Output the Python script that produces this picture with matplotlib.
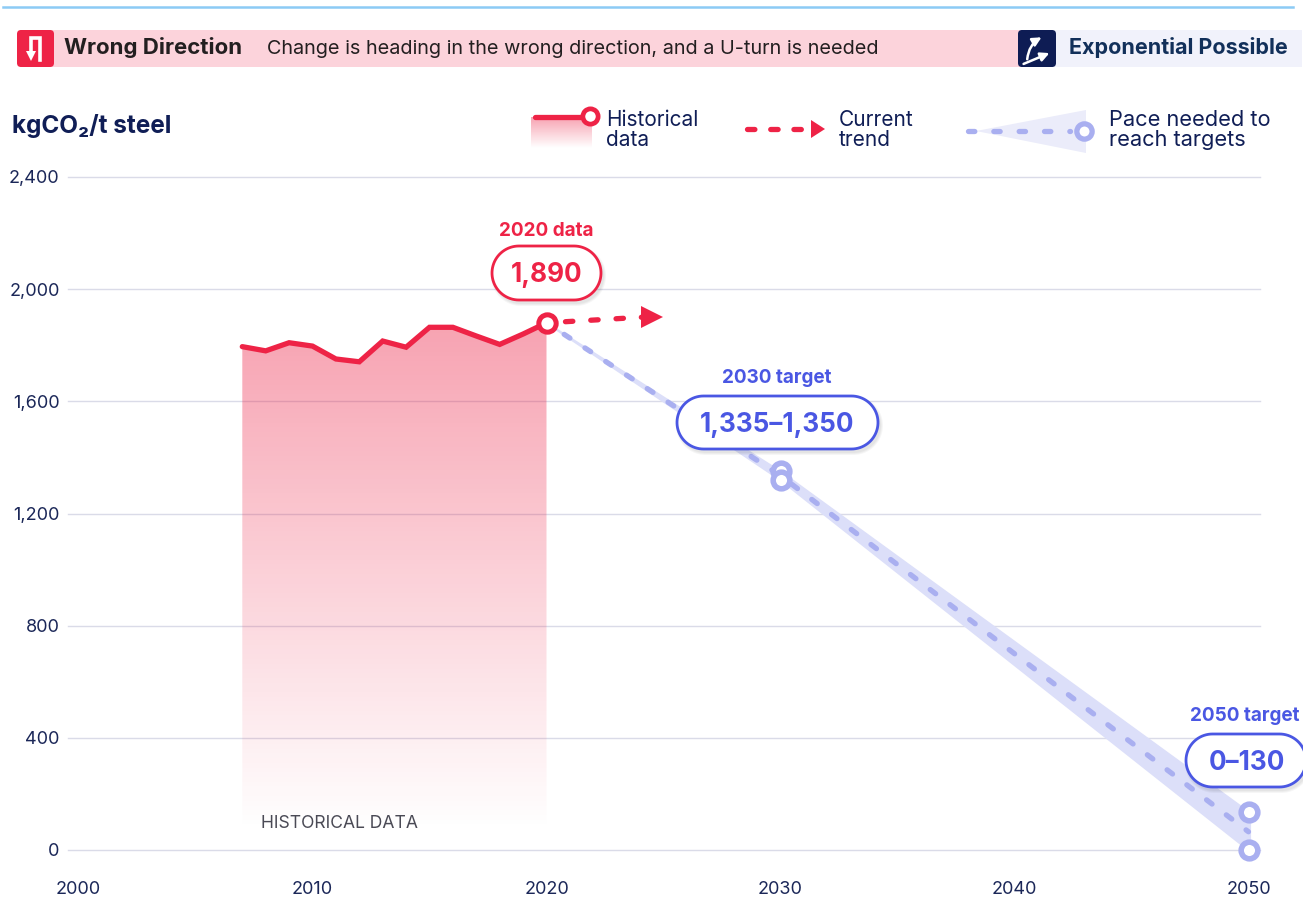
import matplotlib
matplotlib.use('Agg')
import matplotlib.pyplot as plt
import numpy as np
from matplotlib.colors import LinearSegmentedColormap
from matplotlib.patches import FancyBboxPatch, Polygon, Rectangle

plt.rcParams['font.family'] = ['Inter', 'DejaVu Sans']

RED = '#EE2346'
BLUE = '#4A57E3'
PACE = '#A9AFF0'
BAND = '#DCDFF9'
NAVY = '#101E56'

# data
hist_years = [2007, 2008, 2009, 2010, 2011, 2012, 2013, 2014, 2015, 2016, 2017, 2018, 2019, 2020]
hist_values = [1795, 1780, 1809, 1797, 1751, 1741, 1815, 1793, 1864, 1864, 1833, 1803, 1840, 1880]
trend_years = [2020, 2024.5]
trend_values = [1880, 1902]
pace_years = [2020, 2030, 2050]
pace_low = [1880, 1320, 0]
pace_high = [1880, 1350, 136]
pace_mid = [1880, 1335, 65]
x_ticks = [2000, 2010, 2020, 2030, 2040, 2050]
y_ticks = [0, 400, 800, 1200, 1600, 2000, 2400]

W, H = 1303, 898
fig = plt.figure(figsize=(W / 100, H / 100), dpi=100)

# main axes, 68..1260 px wide and 177..850 px tall
ax = fig.add_axes([68 / W, 1 - 850 / H, (1260 - 68) / W, (850 - 177) / H])
ax.set_facecolor('none')
per_year = 23.4
x_range = (2020 + (68 - 546.5) / per_year, 2020 + (1260 - 546.5) / per_year)
for s in ax.spines.values():
    s.set_visible(False)
ax.set_xticks(x_ticks)
ax.set_yticks(y_ticks)
ax.set_yticklabels([f'{v:,}' for v in y_ticks])
ax.tick_params(length=0, labelsize=13, labelcolor='#1B2758')
ax.tick_params(axis='x', pad=22)
ax.tick_params(axis='y', pad=6)
ax.grid(axis='y', color='#DADBE8', lw=1)
ax.set_axisbelow(True)
for gl in ax.get_ygridlines():
    gl.set_clip_on(False)

# gradient under the historical line
red_fade = LinearSegmentedColormap.from_list(
    'red_fade', [(0.933, 0.137, 0.275, 0.42), (0.933, 0.137, 0.275, 0.0)])
grad = ax.imshow(np.linspace(0, 1, 256).reshape(-1, 1), cmap=red_fade, aspect='auto',
                 extent=[hist_years[0], hist_years[-1], 70, max(hist_values)],
                 origin='upper', zorder=1.5)
clip = Polygon(list(zip(hist_years, hist_values)) + [(hist_years[-1], 70), (hist_years[0], 70)],
               transform=ax.transData, fc='none', ec='none')
ax.add_patch(clip)
grad.set_clip_path(clip)
ax.set_xlim(*x_range)
ax.set_ylim(0, 2400)

ax.text(2007.8, 96, 'HISTORICAL DATA', fontsize=12.6, color='#4A4A55', va='center', zorder=4)

# pace band and dashed line
ax.fill_between(pace_years, pace_low, pace_high, color=BAND, lw=1.5, ec=BAND, zorder=2, clip_on=False)
ax.plot(pace_years, pace_mid, color=PACE, lw=3.8, linestyle=(0.7, (1.3, 3.4)), dash_capstyle='round',
        zorder=3, clip_on=False)
ax.plot([2050, 2050], [pace_low[-1], pace_high[-1]], color=BAND, lw=3, zorder=2, clip_on=False)
for yr, v in [(2030, pace_high[1]), (2030, pace_low[1]), (2050, pace_high[2]), (2050, pace_low[2])]:
    ax.plot(yr, v, 'o', ms=12, mfc='white', mec=PACE, mew=4, zorder=5, clip_on=False)

# historical line and trend
ax.plot(hist_years, hist_values, color=RED, lw=3.8, solid_joinstyle='miter', solid_capstyle='round', zorder=4)
ax.plot(trend_years, trend_values, color=RED, lw=3.8, linestyle=(1.2, (1.4, 3.4)), dash_capstyle='round', zorder=3)
ax.plot(trend_years[-1], trend_values[-1], '>', color=RED, ms=16, mew=0, zorder=4)
ax.plot(hist_years[-1], hist_values[-1], 'o', ms=12.5, mfc='white', mec=RED, mew=3.6, zorder=6)

# overlay in pixel coordinates, for the header, legend and callouts
deco = fig.add_axes([0, 0, 1, 1], zorder=10)
deco.axis('off')

deco.plot([3, 1293], [7, 7], color='#8CCBF5', lw=1.8)
deco.add_patch(Rectangle((40, 30), 985, 37, fc='#FCD3DB', ec='none'))
deco.add_patch(Rectangle((1040, 30), 262, 37, fc='#F1F2FB', ec='none'))
deco.add_patch(FancyBboxPatch((19, 32), 33, 33, boxstyle='round,pad=2,rounding_size=4', fc=RED, ec='none'))
deco.add_patch(FancyBboxPatch((1020, 32), 34, 33, boxstyle='round,pad=2,rounding_size=4', fc='#0E1C54', ec='none'))

# U-turn icon
deco.plot([40, 40, 31, 31], [60, 38, 38, 54], color='white', lw=2.6, solid_joinstyle='miter')
deco.add_patch(Polygon([(26, 51), (36, 51), (31, 61)], fc='white', ec='none'))
# exponential icon
deco.annotate('', xy=(1052, 52), xytext=(1021, 65),
              arrowprops=dict(arrowstyle='-|>', color='white', lw=1.8, mutation_scale=13))
deco.annotate('', xy=(1044, 36), xytext=(1027, 62),
              arrowprops=dict(arrowstyle='-|>', color='white', lw=1.8, mutation_scale=13,
                              connectionstyle='arc3,rad=-0.3'))

deco.text(64, 48, 'Wrong Direction', fontsize=16, fontweight='bold', color='#231F20', va='center')
deco.text(267, 49, 'Change is heading in the wrong direction, and a U-turn is needed',
          fontsize=14.3, color='#231F20', va='center')
deco.text(1069, 48, 'Exponential Possible', fontsize=15.5, fontweight='bold', color='#12305A', va='center')
deco.text(12, 126, 'kgCO\u2082/t steel', fontsize=17.5, fontweight='bold', color=NAVY, va='center')

# legend
deco.imshow(np.linspace(0, 1, 64).reshape(-1, 1), cmap=red_fade, aspect='auto',
            extent=[531, 592, 148, 117], zorder=1)
deco.plot([535, 585], [117, 117], color=RED, lw=3.8, solid_capstyle='round', zorder=2)
deco.plot(590, 116, 'o', ms=11, mfc='white', mec=RED, mew=3.4, zorder=3)
deco.text(606, 130, 'Historical\ndata', fontsize=15, color=NAVY, va='center', linespacing=1.0)

deco.plot([747, 808], [129, 129], color=RED, lw=3.8, linestyle=(0, (1.4, 3.0)), dash_capstyle='round')
deco.add_patch(Polygon([(811, 120), (825, 129), (811, 138)], fc=RED, ec='none'))
deco.text(839, 130, 'Current\ntrend', fontsize=15, color=NAVY, va='center', linespacing=1.0)

deco.add_patch(Polygon([(976, 131), (1086, 110), (1086, 153)], fc='#EBECFA', ec='none'))
deco.plot([968, 1070], [131, 131], color=PACE, lw=3.8, linestyle=(0, (1.2, 3.6)), dash_capstyle='round')
deco.plot(1084, 131, 'o', ms=11, mfc='white', mec=PACE, mew=3.8)
deco.text(1109, 130, 'Pace needed to\nreach targets', fontsize=15.7, color=NAVY, va='center', linespacing=1.0)


def pill_points(x0, x1, y0, y1):
    r = (y1 - y0) / 2
    t = np.linspace(-np.pi / 2, np.pi / 2, 40)
    right = np.column_stack([x1 - r + r * np.cos(t), (y0 + y1) / 2 + r * np.sin(t)])
    left = np.column_stack([x0 + r - r * np.cos(t), (y0 + y1) / 2 - r * np.sin(t)])
    return np.vstack([right, left])


def pill(x0, x1, y0, y1, color, label, head, hx, hy):
    # soft shadow, a few faint layers
    for grow in (3, 2, 1):
        deco.add_patch(Polygon(pill_points(x0 + 2 - grow, x1 + 2 + grow, y0 + 3 - grow, y1 + 3 + grow),
                               fc='#000000', ec='none', alpha=0.035, zorder=4))
    deco.add_patch(Polygon(pill_points(x0, x1, y0, y1), fc='white', ec=color, lw=2, zorder=5))
    deco.text((x0 + x1) / 2 if x1 < 1300 else 1247, (y0 + y1) / 2 + 2, label, fontsize=18.8, fontweight='bold',
              color=color, ha='center', va='center', zorder=6)
    deco.text(hx, hy, head, fontsize=13.6, fontweight='bold', color=color,
              ha='center', va='center', zorder=6)


pill(492, 601, 246, 300, RED, '1,890', '2020 data', 546, 231)
pill(677, 878, 396, 449, BLUE, '1,335\u20131,350', '2030 target', 777, 378)
pill(1186, 1306, 734, 787, BLUE, '0\u2013130', '2050 target', 1245, 716)

deco.set_xlim(0, W)
deco.set_ylim(H, 0)

fig.savefig('out.png', dpi=100)
